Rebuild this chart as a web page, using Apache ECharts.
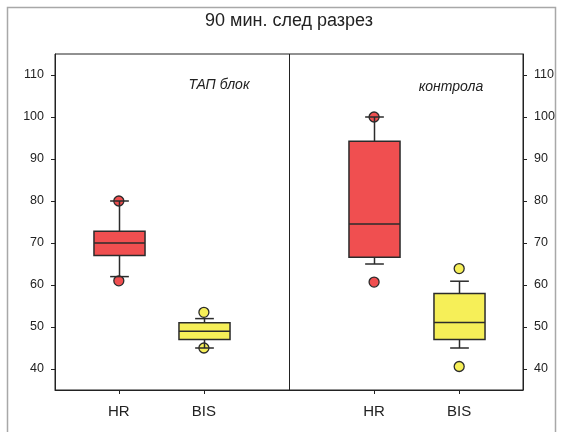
<!DOCTYPE html>
<html>
<head>
<meta charset="utf-8">
<script src="https://cdn.jsdelivr.net/npm/echarts@6/dist/echarts.min.js"></script>
<style>
  html, body { margin: 0; padding: 0; background: #fff; }
  #chart { width: 562px; height: 432px; }
</style>
</head>
<body>
<div id="chart"></div>
<script>
  // groups on the x value axis: 2.75 is the split between the two panels
  const categories = ['HR', 'BIS', 'HR', 'BIS'];
  const groupX = [0.75, 1.75, 3.75, 4.75];
  const splitX = 2.75;

  // [min, Q1, median, Q3, max]
  const boxStats = [
    [62, 67, 70, 72.8, 80],
    [45, 47, 49, 51, 52],
    [65, 66.6, 74.5, 94.2, 100],
    [45, 47, 51.1, 58, 60.9],
  ];
  const outliers = [
    [80, 61],
    [53.5, 45],
    [100, 60.7],
    [63.9, 40.6],
  ];
  const yTicks = [40, 50, 60, 70, 80, 90, 100, 110];
  const panelNames = ['ТАП блок', 'контрола'];
  const title = '90 мин. след разрез';

  const fills = { HR: '#f04f50', BIS: '#f6ef58' };
  const stroke = '#2b2b2b';
  const font = '"Liberation Sans", Arial, sans-serif';

  const boxData = boxStats.map((s, i) => [groupX[i]].concat(s));
  const outlierData = [];
  outliers.forEach((pts, i) => {
    pts.forEach((v) => {
      outlierData.push({ value: [groupX[i], v], itemStyle: { color: fills[categories[i]] } });
    });
  });

  const yAxisBase = {
    type: 'value',
    min: 35,
    max: 115,
    splitLine: { show: false },
    axisLine: { show: true, lineStyle: { color: '#222', width: 1 } },
    axisTick: { show: true, length: 4, customValues: yTicks, lineStyle: { color: '#222' } },
    axisLabel: {
      customValues: yTicks,
      margin: 11,
      color: '#222',
      fontSize: 12.5,
      fontFamily: font,
    },
  };

  const chart = echarts.init(document.getElementById('chart'));
  const option = {
    animation: false,
    backgroundColor: '#fff',
    grid: { left: 55, top: 54, right: 39, bottom: 42, show: true, borderColor: '#222', borderWidth: 1 },
    xAxis: {
      type: 'value',
      min: 0,
      max: 5.5,
      splitLine: { show: false },
      axisLine: { show: true, onZero: false, lineStyle: { color: '#222' } },
      axisTick: { show: true, length: 4, customValues: groupX, lineStyle: { color: '#222' } },
      axisLabel: {
        customValues: groupX,
        margin: 14,
        color: '#222',
        fontSize: 15,
        fontFamily: font,
        formatter(v) {
          const i = groupX.indexOf(v);
          return i >= 0 ? categories[i] : '';
        },
      },
    },
    yAxis: [
      Object.assign({}, yAxisBase, { position: 'left' }),
      Object.assign({}, yAxisBase, { position: 'right' }),
    ],
    graphic: [
      {
        type: 'rect',
        shape: { x: 7.5, y: 7.5, width: 548, height: 440 },
        style: { fill: 'none', stroke: '#a8a8a8', lineWidth: 1.5 },
        z: -1,
      },
      {
        type: 'text',
        x: 289,
        y: 21,
        style: { text: title, fontSize: 18, fontFamily: font, fill: '#222', textAlign: 'center', textVerticalAlign: 'middle' },
      },
      {
        type: 'text',
        x: 219,
        y: 85,
        style: { text: panelNames[0], fontSize: 14, fontStyle: 'italic', fontFamily: font, fill: '#222', textAlign: 'center', textVerticalAlign: 'middle' },
      },
      {
        type: 'text',
        x: 451,
        y: 87,
        style: { text: panelNames[1], fontSize: 14, fontStyle: 'italic', fontFamily: font, fill: '#222', textAlign: 'center', textVerticalAlign: 'middle' },
      },
    ],
    series: [
      {
        type: 'scatter',
        symbol: 'circle',
        symbolSize: 10,
        z: 2,
        itemStyle: { borderColor: stroke, borderWidth: 1.3, opacity: 1 },
        data: outlierData,
        markLine: {
          silent: true,
          symbol: 'none',
          label: { show: false },
          lineStyle: { color: '#222', width: 1, type: 'solid' },
          data: [{ xAxis: splitX }],
        },
      },
      {
        type: 'custom',
        z: 3,
        data: boxData,
        encode: { x: 0, y: [1, 2, 3, 4, 5] },
        renderItem(params, api) {
          const x = api.value(0);
          const lo = api.coord([x, api.value(1)]);
          const q1 = api.coord([x, api.value(2)]);
          const med = api.coord([x, api.value(3)]);
          const q3 = api.coord([x, api.value(4)]);
          const hi = api.coord([x, api.value(5)]);
          const bw = api.size([0.6, 0])[0];
          const cw = api.size([0.22, 0])[0];
          const cx = Math.round(lo[0]) + 0.5;
          const lineStyle = { stroke: stroke, lineWidth: 1.5 };
          return {
            type: 'group',
            children: [
              { type: 'line', shape: { x1: cx, y1: q3[1], x2: cx, y2: hi[1] }, style: lineStyle },
              { type: 'line', shape: { x1: cx - cw / 2, y1: hi[1], x2: cx + cw / 2, y2: hi[1] }, style: lineStyle },
              { type: 'line', shape: { x1: cx, y1: q1[1], x2: cx, y2: lo[1] }, style: lineStyle },
              { type: 'line', shape: { x1: cx - cw / 2, y1: lo[1], x2: cx + cw / 2, y2: lo[1] }, style: lineStyle },
              {
                type: 'rect',
                shape: { x: cx - bw / 2, y: q3[1], width: bw, height: q1[1] - q3[1] },
                style: { fill: fills[categories[params.dataIndex]], stroke: stroke, lineWidth: 1.5 },
              },
              { type: 'line', shape: { x1: cx - bw / 2, y1: med[1], x2: cx + bw / 2, y2: med[1] }, style: lineStyle },
            ],
          };
        },
      },
    ],
  };
  chart.setOption(option);
</script>
</body>
</html>
